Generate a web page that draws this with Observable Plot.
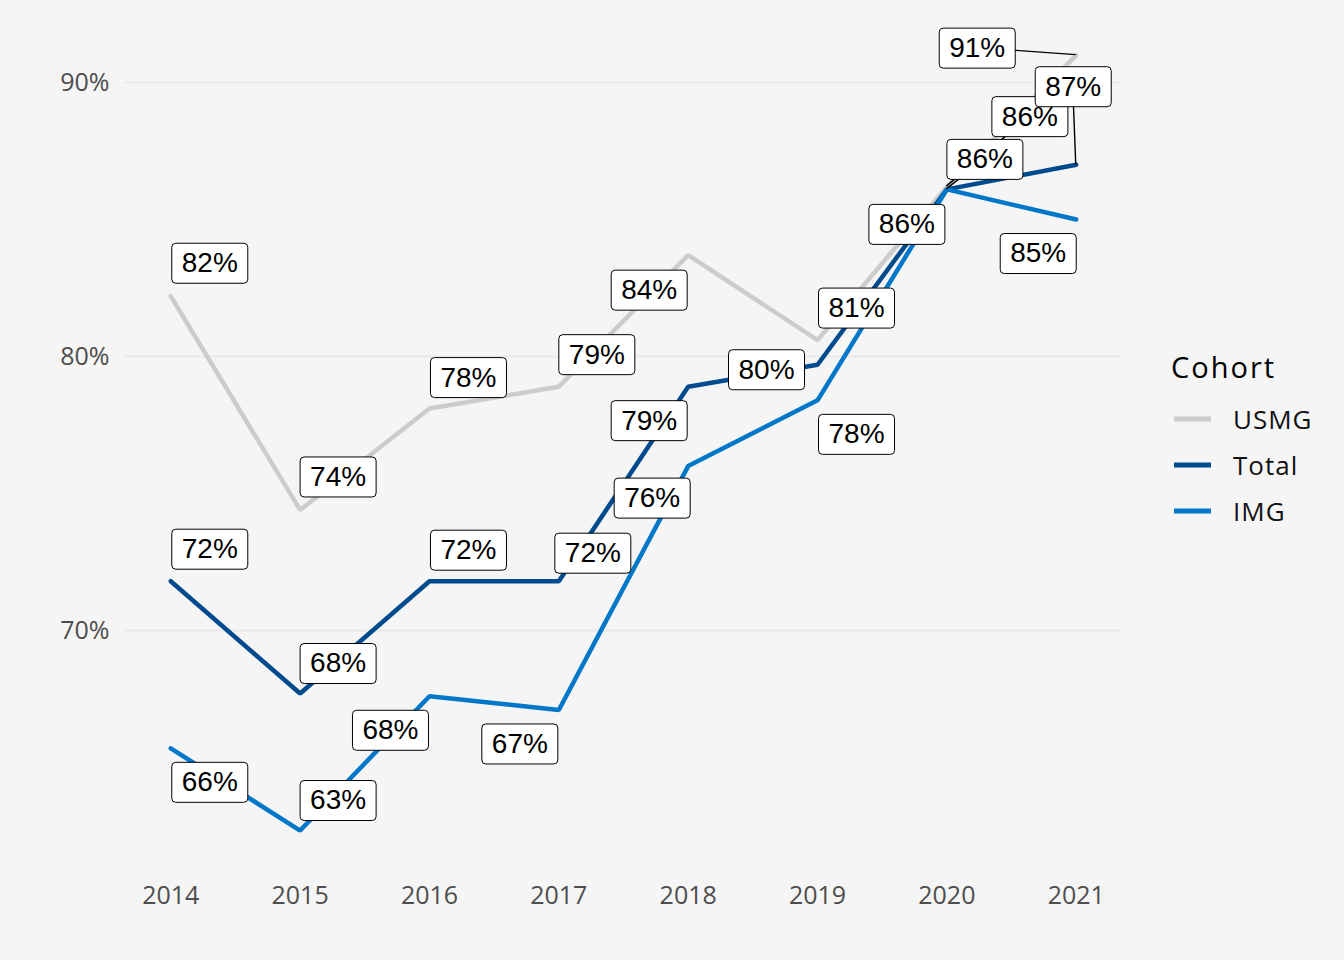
<!DOCTYPE html>
<html>
<head>
<meta charset="utf-8">
<script src="https://cdn.jsdelivr.net/npm/d3@7"></script>
<script src="https://cdn.jsdelivr.net/npm/@observablehq/plot@0.6"></script>
<style>
  html, body { margin: 0; padding: 0; background: #f5f5f5; }
  #wrap { position: relative; width: 1344px; height: 960px; background: #f5f5f5; overflow: hidden; }
  #legend { position: absolute; left: 0; top: 0; pointer-events: none; }
  #chart svg [aria-label="x-axis tick label"] text,
  #chart svg [aria-label="y-axis tick label"] text { letter-spacing: 1.5px; }
</style>
</head>
<body>
<div id="wrap">
  <div id="chart"></div>
  <svg id="legend" width="1344" height="960"></svg>
</div>
<script>
// ---- data ----
const years = [2014, 2015, 2016, 2017, 2018, 2019, 2020, 2021];
const cohorts = ["USMG", "Total", "IMG"];
const usmgValues  = [82.2, 74.4, 78.1, 78.9, 83.7, 80.6, 86.2, 91.0];
const totalValues = [71.8, 67.7, 71.8, 71.8, 78.9, 79.7, 86.1, 87.0];
const imgValues   = [65.7, 62.7, 67.6, 67.1, 76.0, 78.4, 86.1, 85.0];
const yTicks = [70, 80, 90];
const legendTitle = "Cohort";

// ---- styling / layout (kept apart from the data) ----
const colors = ["#cccccc", "#004b8d", "#0077c8"];
// label nudges in pixels [dx, dy], one per year, per cohort
const labelNudges = {
  USMG:  [[39,-33],[38,-33],[39,-31],[38,-32],[-39,35],[39,-32],[83,-70],[-99,-7]],
  Total: [[39,-32],[38,-30],[39,-31],[34,-28],[-39,34],[-51,5],[38,-30],[-3,-78]],
  IMG:   [[39,34],[38,-30],[-39,34],[-39,34],[-36,32],[39,34],[-40,35],[-38,34]]
};
const connectorYears = { USMG: [2020, 2021], Total: [2020, 2021], IMG: [] };

const seriesValues = { USMG: usmgValues, Total: totalValues, IMG: imgValues };
const rows = cohorts.flatMap(c => years.map((year, i) => ({ cohort: c, year, value: seriesValues[c][i] })));
const labels = cohorts.flatMap(c => years.map((year, i) => ({
  cohort: c, year, value: seriesValues[c][i],
  text: d3.format(".0f")(seriesValues[c][i]) + "%",
  dx: labelNudges[c][i][0], dy: labelNudges[c][i][1],
  connect: connectorYears[c].includes(year)
})));

// rounded box symbol for label backgrounds
const boxSymbol = {
  draw(ctx) {
    const w = 38, h = 20, r = 4;
    ctx.moveTo(-w + r, -h);
    ctx.lineTo(w - r, -h);
    ctx.arcTo(w, -h, w, -h + r, r);
    ctx.lineTo(w, h - r);
    ctx.arcTo(w, h, w - r, h, r);
    ctx.lineTo(-w + r, h);
    ctx.arcTo(-w, h, -w, h - r, r);
    ctx.lineTo(-w, -h + r);
    ctx.arcTo(-w, -h, -w + r, -h, r);
    ctx.closePath();
  }
};

function connectorMark(index, scales) {
  const g = d3.create("svg:g");
  for (const l of labels.filter(d => d.connect)) {
    const x0 = scales.x(l.year), y0 = scales.y(l.value);
    g.append("line")
      .attr("x1", x0).attr("y1", y0)
      .attr("x2", x0 + l.dx).attr("y2", y0 + l.dy)
      .attr("stroke", "black").attr("stroke-width", 1.4);
  }
  return g.node();
}

const labelMarks = labels.flatMap(l => [
  Plot.dot([l], { x: "year", y: "value", dx: l.dx, dy: l.dy, symbol: boxSymbol, fill: "white", stroke: "black", strokeWidth: 1 }),
  Plot.text([l], { x: "year", y: "value", dx: l.dx, dy: l.dy, text: "text", fill: "black", fontSize: 28, fontFamily: "Liberation Sans, Arial, sans-serif" })
]);

const chart = Plot.plot({
  width: 1344,
  height: 960,
  marginLeft: 125,
  marginRight: 223,
  marginTop: 16,
  marginBottom: 92,
  style: { background: "#f5f5f5", fontFamily: "Open Sans", fontSize: "25px", color: "#4d4d4d" },
  x: { domain: [2013.65, 2021.35], label: null },
  y: { domain: [61.314, 92.41], label: null },
  color: { domain: cohorts, range: colors },
  marks: [
    Plot.ruleY(yTicks, { stroke: "#e9e9e9", strokeWidth: 2 }),
    Plot.axisY({ ticks: yTicks, tickFormat: d => d + "%", tickSize: 0, tickPadding: 16, label: null, fill: "#4d4d4d", ariaLabel: "y-axis tick label" }),
    Plot.axisX({ ticks: years, tickFormat: d => String(d), tickSize: 0, tickPadding: 18, label: null, fill: "#4d4d4d", ariaLabel: "x-axis tick label" }),
    Plot.line(rows, { x: "year", y: "value", z: "cohort", stroke: "cohort", strokeWidth: 4.5, strokeLinejoin: "miter" }),
    connectorMark,
    ...labelMarks
  ]
});
document.getElementById("chart").appendChild(chart);

// legend
const leg = d3.select("#legend");
leg.append("text").attr("x", 1171).attr("y", 378)
  .attr("font-family", "Open Sans").attr("font-size", 29).attr("letter-spacing", 2)
  .attr("fill", "#000").text(legendTitle);
const keyCenters = [419, 465, 511];
cohorts.forEach((c, i) => {
  leg.append("line").attr("x1", 1174).attr("x2", 1211).attr("y1", keyCenters[i]).attr("y2", keyCenters[i])
    .attr("stroke", colors[i]).attr("stroke-width", 5);
  leg.append("text").attr("x", 1233).attr("y", keyCenters[i] + 9.5)
    .attr("font-family", "Open Sans").attr("font-size", 26).attr("letter-spacing", 1)
    .attr("fill", "#111").text(c);
});
</script>
</body>
</html>
